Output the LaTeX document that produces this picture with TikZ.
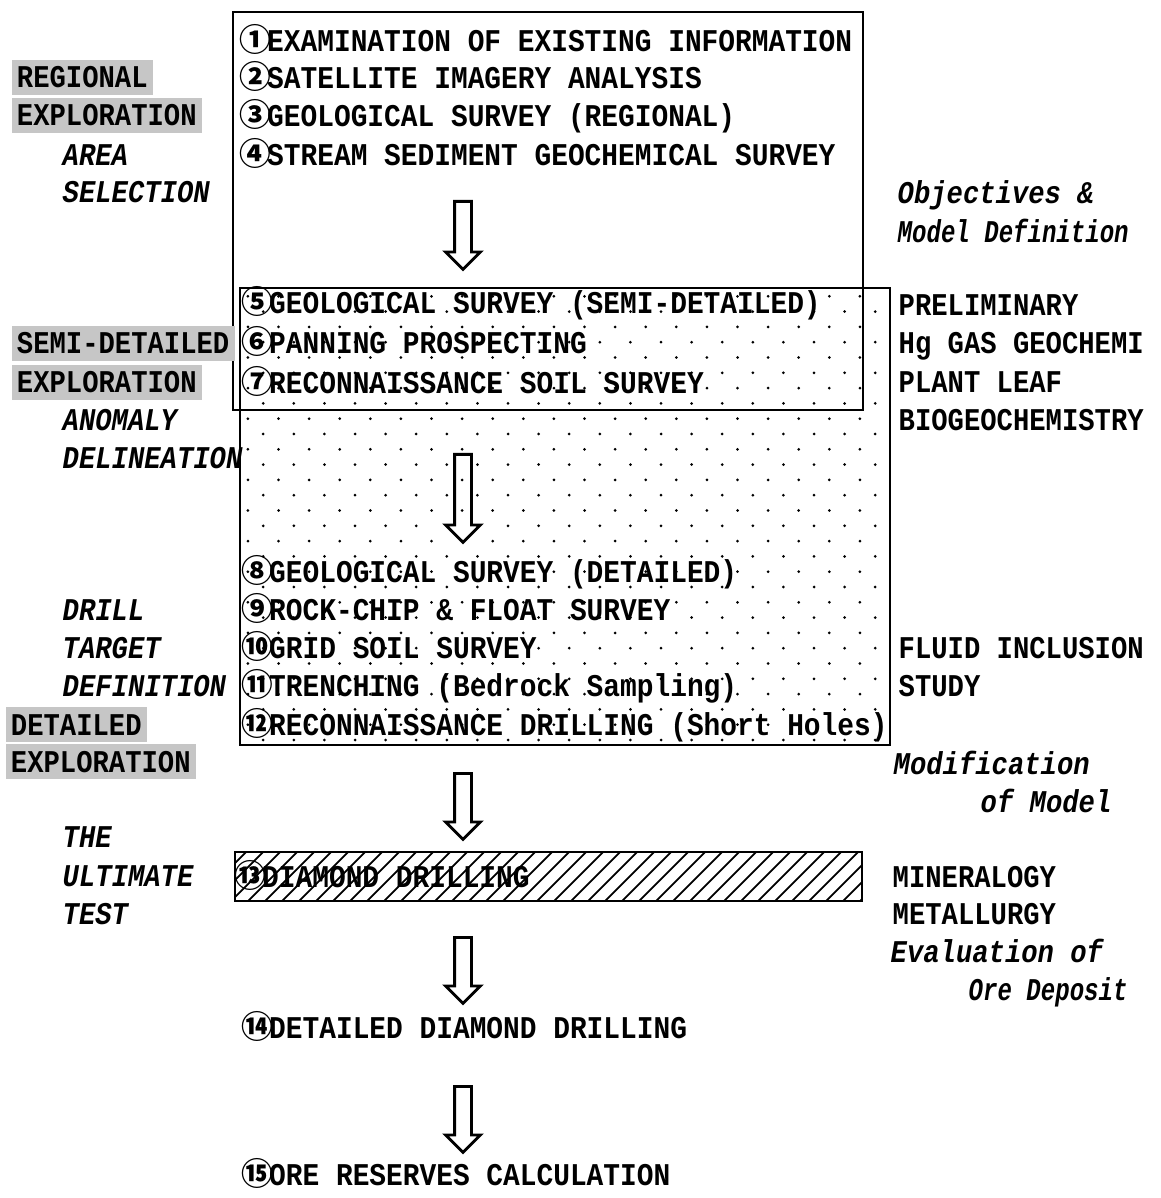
\documentclass[tikz,border=0pt]{standalone}
\usepackage{fontspec}
\usetikzlibrary{shapes.arrows}
\newfontfamily\boxfont[FakeStretch=0.88]{Liberation Mono}
\newfontfamily\labelfont[FakeStretch=0.86]{Liberation Mono}
\newfontfamily\slimfont[FakeStretch=0.76]{Liberation Mono}
\newfontfamily\circfont[Scale=1.0]{Noto Sans CJK JP}
\newcommand{\cn}[1]{\makebox[0.245cm][c]{\circfont #1}}

\tikzset{
  steptext/.style={anchor=base west, inner sep=0pt, font=\boxfont\bfseries\fontsize{9}{11}\selectfont},
  sidetext/.style={anchor=base west, inner sep=0pt, font=\labelfont\bfseries\fontsize{9}{11}\selectfont},
  phase/.style={sidetext, fill=gray!45, inner xsep=1.5pt, inner ysep=2pt},
  aim/.style={sidetext, font=\labelfont\bfseries\itshape\fontsize{9}{11}\selectfont},
  slimaim/.style={sidetext, font=\slimfont\bfseries\itshape\fontsize{9}{11}\selectfont},
  downarrow/.style={single arrow, draw, line width=0.8pt, shape border rotate=270,
    anchor=tail, inner sep=0.07cm, single arrow head extend=0.09cm, minimum height=#1},
  frame/.style={line width=0.7pt}
}

\begin{document}
\begin{tikzpicture}[x=0.01cm, y=-0.01cm]
    \useasboundingbox (0,0) rectangle (1160,1198);

    % Dotted field behind steps 5 to 12
    \begin{scope}
        \clip (240,288) rectangle (890,745);
        \foreach \i in {0,...,29}{
            \pgfmathsetmacro{\rowy}{296.3+15.3*\i}
            \pgfmathsetmacro{\rowx}{247.9+15.3*mod(\i,2)}
            \foreach \j in {0,...,21}
                \fill (\rowx+30.6*\j,\rowy) circle (0.015cm);
        }
    \end{scope}

    % Hatched field for step 13
    \begin{scope}
        \clip (235,852) rectangle (862,901);
        \foreach \x in {180,197,...,880}
            \draw[line width=0.5pt] (\x,901) -- ++(49,-49);
    \end{scope}

    % Frames
    \draw[frame] (233,12) rectangle (863,410);
    \draw[frame] (240,288) rectangle (890,745);
    \draw[frame] (235,852) rectangle (862,901);

    % Steps
    \node[steptext] (s1) at (242,52) {\cn{①}EXAMINATION OF EXISTING INFORMATION};
    \node[steptext] (s2) at (242,89) {\cn{②}SATELLITE IMAGERY ANALYSIS};
    \node[steptext] (s3) at (242,127) {\cn{③}GEOLOGICAL SURVEY (REGIONAL)};
    \node[steptext] (s4) at (242,166) {\cn{④}STREAM SEDIMENT GEOCHEMICAL SURVEY};
    \node[steptext] (s5) at (244,314) {\cn{⑤}GEOLOGICAL SURVEY (SEMI-DETAILED)};
    \node[steptext] (s6) at (244,354) {\cn{⑥}PANNING PROSPECTING};
    \node[steptext] (s7) at (244,394) {\cn{⑦}RECONNAISSANCE SOIL SURVEY};
    \node[steptext] (s8) at (244,583) {\cn{⑧}GEOLOGICAL SURVEY (DETAILED)};
    \node[steptext] (s9) at (244,620) {\cn{⑨}ROCK-CHIP \& FLOAT SURVEY};
    \node[steptext] (s10) at (244,658) {\cn{⑩}GRID SOIL SURVEY};
    \node[steptext] (s11) at (244,696) {\cn{⑪}TRENCHING (Bedrock Sampling)};
    \node[steptext] (s12) at (244,735) {\cn{⑫}RECONNAISSANCE DRILLING (Short Holes)};
    \node[steptext] (s13) at (237,887) {\cn{⑬}DIAMOND DRILLING};
    \node[steptext] (s14) at (244,1038) {\cn{⑭}DETAILED DIAMOND DRILLING};
    \node[steptext] (s15) at (244,1185) {\cn{⑮}ORE RESERVES CALCULATION};

    % Hollow arrows
    \node[downarrow=0.68cm] (ar1) at (463,200) {};
    \node[downarrow=0.88cm] (ar2) at (463,453) {};
    \node[downarrow=0.66cm] (ar3) at (463,772) {};
    \node[downarrow=0.66cm] (ar4) at (463,936) {};
    \node[downarrow=0.66cm] (ar5) at (463,1085) {};

    % Left: stages
    \node[phase] (regA) at (11,88) {REGIONAL};
    \node[phase] (regB) at (11,126) {EXPLORATION};
    \node[aim] (areaA) at (62,166) {AREA};
    \node[aim] (areaB) at (62,203) {SELECTION};
    \node[phase] (semiA) at (11,354) {SEMI-DETAILED};
    \node[phase] (semiB) at (11,393) {EXPLORATION};
    \node[aim] (anomA) at (62,431) {ANOMALY};
    \node[aim] (anomB) at (62,469) {DELINEATION};
    \node[aim] (drillA) at (62,620) {DRILL};
    \node[aim] (drillB) at (62,658) {TARGET};
    \node[aim] (drillC) at (62,696) {DEFINITION};
    \node[phase] (detA) at (5,735) {DETAILED};
    \node[phase] (detB) at (5,772) {EXPLORATION};
    \node[aim] (testA) at (62,847) {THE};
    \node[aim] (testB) at (62,886) {ULTIMATE};
    \node[aim] (testC) at (62,924) {TEST};

    % Right: supporting work
    \node[aim] (objA) at (897,204) {Objectives \&};
    \node[slimaim] (objB) at (897,243) {Model Definition};
    \node[sidetext] (preA) at (898,316) {PRELIMINARY};
    \node[sidetext] (preB) at (898,354) {Hg GAS GEOCHEMI};
    \node[sidetext] (preC) at (898,393) {PLANT LEAF};
    \node[sidetext] (preD) at (898,431) {BIOGEOCHEMISTRY};
    \node[sidetext] (fluA) at (898,658) {FLUID INCLUSION};
    \node[sidetext] (fluB) at (898,696) {STUDY};
    \node[aim] (modA) at (893,774) {Modification};
    \node[aim] (modB) at (980,812) {of Model};
    \node[sidetext] (minA) at (892,887) {MINERALOGY};
    \node[sidetext] (minB) at (892,924) {METALLURGY};
    \node[aim] (evaA) at (890,962) {Evaluation of};
    \node[slimaim] (evaB) at (968,1000) {Ore Deposit};
\end{tikzpicture}
\end{document}
